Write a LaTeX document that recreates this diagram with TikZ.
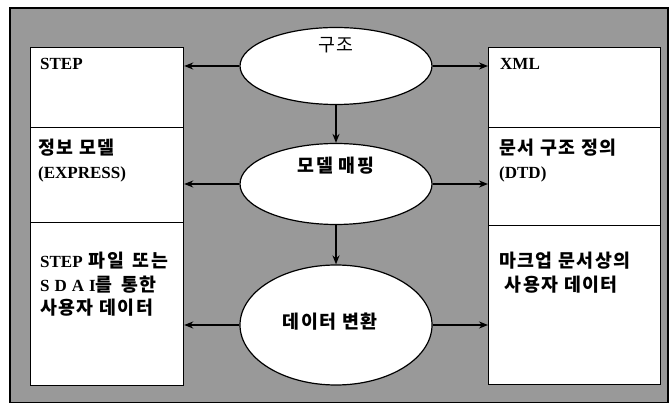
\documentclass[tikz,border=0pt]{standalone}
\usepackage{fontspec}
\setmainfont{Liberation Serif}
\newfontfamily\kr[Scale=1.08,LetterSpace=8]{Noto Sans CJK KR}
\usetikzlibrary{shapes.geometric,arrows.meta}
\definecolor{bgtex}{gray}{0.60}
\tikzset{
  panel/.style={draw=black, line width=1.2pt, fill=white},
  oval/.style={ellipse, draw=black, line width=1.2pt, fill=white, inner sep=0pt},
  lbl/.style={anchor=north west, align=left, font=\fontsize{17}{23.5}\selectfont\bfseries, inner sep=0pt},
  olbl/.style={font=\kr\fontsize{17}{18}\selectfont\bfseries, inner sep=0pt},
  link/.style={line width=1.5pt, -{Stealth[length=9pt,width=7pt]}}
}
\begin{document}
\begin{tikzpicture}[x=1pt,y=-1pt]
\useasboundingbox (0,0) rectangle (669,403);
\fill[white] (0,0) rectangle (669,403);
\draw[fill=bgtex, line width=1.2pt] (10,8) rectangle (668,403);
% left panel
\node[panel, minimum width=153pt, minimum height=80pt, anchor=north west] (lstep) at (30,47) {};
\node[panel, minimum width=153pt, minimum height=95pt, anchor=north west] (lmodel) at (30,127) {};
\node[panel, minimum width=153pt, minimum height=163pt, anchor=north west] (ldata) at (30,222) {};
% right panel
\node[panel, minimum width=172pt, minimum height=80pt, anchor=north west] (rxml) at (488,47) {};
\node[panel, minimum width=172pt, minimum height=98pt, anchor=north west] (rdtd) at (488,127) {};
\node[panel, minimum width=172pt, minimum height=159pt, anchor=north west] (rdata) at (488,225) {};
% texts
\node[lbl] (tstep) at (40,58) {STEP};
\node[lbl] (tmodel) at (38,139) {{\kr 정보 모델}\\(EXPRESS)};
\node[lbl] (tdata) at (40,252) {STEP\hspace{6pt}{\kr 파일\hspace{9pt}또는}\\S\hspace{5pt}D\hspace{5pt}A\hspace{5pt}I{\kr 를\hspace{9pt}통\hspace{1pt}한}\\{\kr 사용자 데이터}};
\node[lbl] (txml) at (500,58) {XML};
\node[lbl] (tdtd) at (499,139) {{\kr 문서 구조 정의}\\(DTD)};
\node[lbl] (tr3) at (499,252) {{\kr 마크업 문서상의}\\{\kr\ 사용자 데이터}};
% ovals
\node[oval, minimum width=192pt, minimum height=77pt] (o1) at (336,66) {};
\node[oval, minimum width=192pt, minimum height=81pt] (o2) at (336,184) {};
\node[oval, minimum width=192pt, minimum height=120pt] (o3) at (336,325) {};
\node[olbl, font=\kr\fontsize{17}{18}\selectfont\mdseries] (t1) at (336,45) {구조};
\node[olbl] (t2) at (336,166) {모델 매핑};
\node[olbl] (t3) at (330,322) {데이터 변환};
% arrows
\draw[link] (o1.south) -- (o2.north);
\draw[link] (o2.south) -- (o3.north);
\draw[link] (o1.west) -- (lstep.east |- o1.west);
\draw[link] (o1.east) -- (rxml.west |- o1.east);
\draw[link] (o2.west) -- (lmodel.east |- o2.west);
\draw[link] (o2.east) -- (rdtd.west |- o2.east);
\draw[link] (o3.west) -- (ldata.east |- o3.west);
\draw[link] (o3.east) -- (rdata.west |- o3.east);
\end{tikzpicture}
\end{document}
